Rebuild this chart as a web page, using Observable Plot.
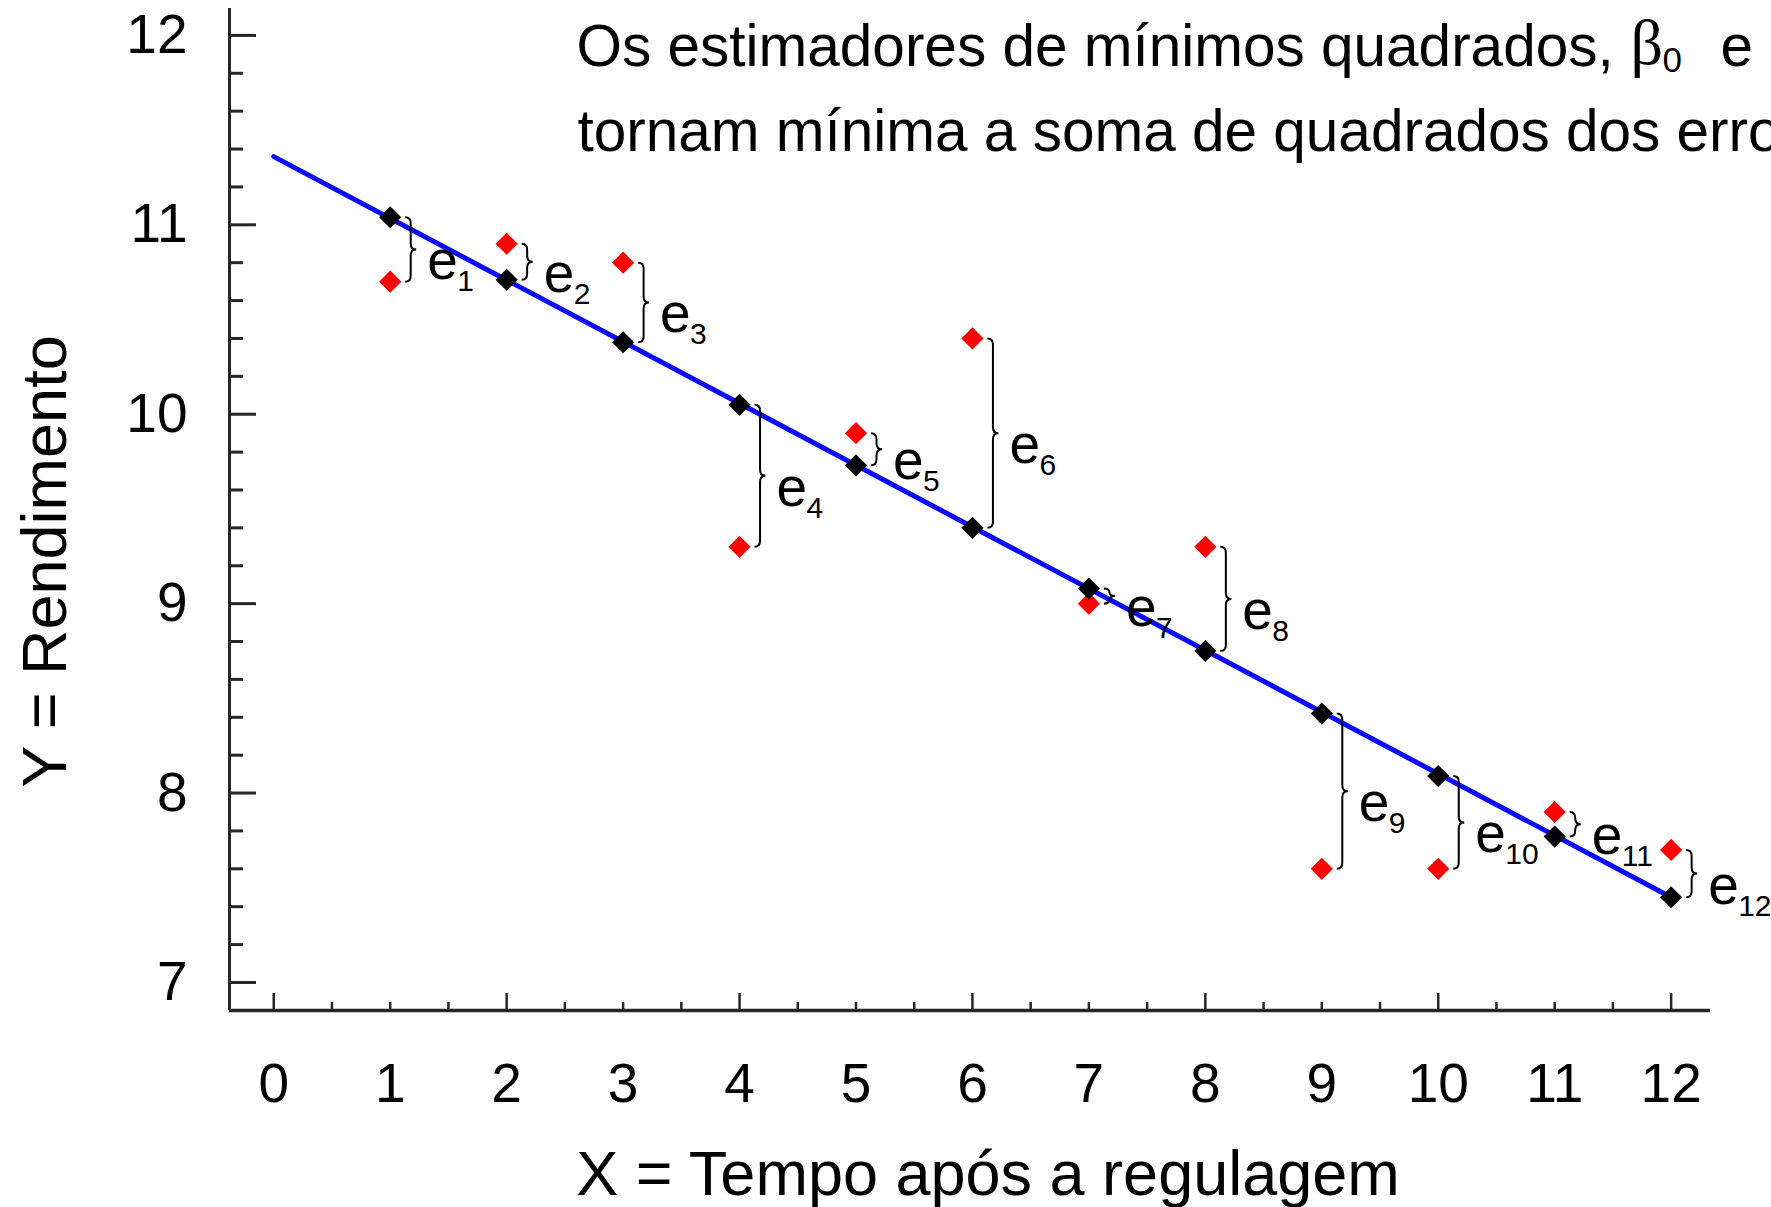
<!DOCTYPE html>
<html>
<head>
<meta charset="utf-8">
<script src="https://cdn.jsdelivr.net/npm/d3@7"></script>
<script src="https://cdn.jsdelivr.net/npm/@observablehq/plot@0.6"></script>
<style>
  html, body { margin: 0; padding: 0; background: #ffffff; overflow: hidden; }
  #chart svg { display: block; }
</style>
</head>
<body>
<div id="chart"></div>
<script>
// ---- data ----
const tempo = [1, 2, 3, 4, 5, 6, 7, 8, 9, 10, 11, 12];
const rendimento = [10.7, 10.9, 10.8, 9.3, 9.9, 10.4, 9.0, 9.3, 7.6, 7.6, 7.9, 7.7];
const ajustado = [11.04, 10.71, 10.38, 10.05, 9.73, 9.40, 9.08, 8.75, 8.42, 8.09, 7.77, 7.45];
const retaX = [0, 12];
const retaY = [11.36, 7.45];
const residuoNomes = ["1", "2", "3", "4", "5", "6", "7", "8", "9", "10", "11", "12"];

const xTickLabels = [0, 1, 2, 3, 4, 5, 6, 7, 8, 9, 10, 11, 12];
const yTickLabels = [7, 8, 9, 10, 11, 12];
const xMajorTicks = [0, 2, 4, 6, 8, 10, 12];
const xMinorTicks = [0.5, 1, 1.5, 2.5, 3, 3.5, 4.5, 5, 5.5, 6.5, 7, 7.5, 8.5, 9, 9.5, 10.5, 11, 11.5];
const yMajorTicks = [7, 8, 9, 10, 11, 12];
const yMinorTicks = [7.2, 7.4, 7.6, 7.8, 8.2, 8.4, 8.6, 8.8, 9.2, 9.4, 9.6, 9.8,
                     10.2, 10.4, 10.6, 10.8, 11.2, 11.4, 11.6, 11.8];

const xLabel = "X = Tempo após a regulagem";
const yLabel = "Y = Rendimento";
const titulo1 = "Os estimadores de mínimos quadrados,";
const titulo2 = "tornam mínima a soma de quadrados dos erros";

// ---- scale configuration ----
const W = 1771, H = 1207;
const mL = 229, mR = 61, mT = 8, mB = 197;
const xDomain = [-0.38, 12.338];
const yDomain = [6.852, 12.142];
const plotW = W - mL - mR, plotH = H - mT - mB;

const residuos = tempo.map((x, i) => ({x, obs: rendimento[i], fit: ajustado[i], nome: residuoNomes[i]}));

// curly brace drawn between the two link end points (tip pointing right)
function braceCurve(context) {
  let pts = [];
  return {
    areaStart() {}, areaEnd() {},
    lineStart() { pts = []; },
    point(x, y) { pts.push([+x, +y]); },
    lineEnd() {
      if (pts.length < 2) return;
      const x = pts[0][0];
      const top = Math.min(pts[0][1], pts[1][1]);
      const bot = Math.max(pts[0][1], pts[1][1]);
      const mid = (top + bot) / 2;
      const w = 5.5;
      const r = Math.min(6, (bot - top) / 4);
      context.moveTo(x, top);
      context.quadraticCurveTo(x + w, top, x + w, top + r);
      context.lineTo(x + w, mid - r);
      context.quadraticCurveTo(x + w, mid, x + 2 * w, mid);
      context.quadraticCurveTo(x + w, mid, x + w, mid + r);
      context.lineTo(x + w, bot - r);
      context.quadraticCurveTo(x + w, bot, x, bot);
    }
  };
}

const sans = "Liberation Sans, Arial, Helvetica, sans-serif";
const axisColor = "#262626";
const fmt = d3.format("d");

const chart = Plot.plot({
  width: W,
  height: H,
  marginLeft: mL,
  marginRight: mR,
  marginTop: mT,
  marginBottom: mB,
  style: {fontFamily: sans, background: "#ffffff", color: "#000000", overflow: "hidden"},
  x: {domain: xDomain, axis: null},
  y: {domain: yDomain, axis: null},
  marks: [
    // axis lines
    Plot.ruleX([xDomain[0]], {stroke: axisColor, strokeWidth: 3}),
    Plot.ruleY([yDomain[0]], {stroke: axisColor, strokeWidth: 3.5}),
    // inward ticks
    Plot.tickY(yMajorTicks, {y: d => d, insetRight: plotW - 27, stroke: axisColor, strokeWidth: 3}),
    Plot.tickY(yMinorTicks, {y: d => d, insetRight: plotW - 14, stroke: axisColor, strokeWidth: 3}),
    Plot.tickX(xMajorTicks, {x: d => d, insetTop: plotH - 17, stroke: axisColor, strokeWidth: 2.5}),
    Plot.tickX(xMinorTicks, {x: d => d, insetTop: plotH - 8, stroke: axisColor, strokeWidth: 2.5}),
    // tick labels
    Plot.axisY(yTickLabels, {tickSize: 0, tickPadding: 42, fontSize: 55, label: null, fill: "#000", tickFormat: fmt}),
    Plot.axisX(xTickLabels, {tickSize: 0, tickPadding: 52, fontSize: 55, label: null, fill: "#000", tickFormat: fmt}),
    // axis titles
    Plot.text([yLabel], {text: d => d, frameAnchor: "left", textAnchor: "middle", lineAnchor: "middle", dx: -184, dy: 52, rotate: -90, fontSize: 63, fill: "#000"}),
    Plot.text([xLabel], {text: d => d, frameAnchor: "bottom", textAnchor: "middle", lineAnchor: "middle", dx: 18, dy: 164, fontSize: 63, fill: "#000"}),
    // title text (inside the frame, top right)
    Plot.text([titulo1], {text: d => d, frameAnchor: "top-left", textAnchor: "start", lineAnchor: "bottom", dx: 347, dy: 57.5, fontSize: 58.5, fill: "#000"}),
    Plot.text(["β"], {text: d => d, frameAnchor: "top-left", textAnchor: "start", lineAnchor: "bottom", dx: 1401, dy: 55, fontSize: 64, fontFamily: "Liberation Serif, Times New Roman, serif", fill: "#000"}),
    Plot.text(["0"], {text: d => d, frameAnchor: "top-left", textAnchor: "start", lineAnchor: "bottom", dx: 1433, dy: 63, fontSize: 35, fill: "#000"}),
    Plot.text(["e"], {text: d => d, frameAnchor: "top-left", textAnchor: "start", lineAnchor: "bottom", dx: 1491, dy: 57.5, fontSize: 58.5, fill: "#000"}),
    Plot.text([titulo2], {text: d => d, frameAnchor: "top-left", textAnchor: "start", lineAnchor: "bottom", dx: 348, dy: 142, fontSize: 58.5, fill: "#000"}),
    // regression line
    Plot.line(retaX.map((x, i) => ({x, y: retaY[i]})), {x: "x", y: "y", stroke: "#0a0aff", strokeWidth: 5}),
    // braces for residuals
    Plot.link(residuos, {x1: "x", y1: "obs", x2: "x", y2: "fit", curve: braceCurve, dx: 15, stroke: "#000", strokeWidth: 2}),
    // observed (red) and fitted (black) points
    Plot.dot(residuos, {x: "x", y: "obs", symbol: "diamond2", r: 10, fill: "#ff0000", stroke: "none"}),
    Plot.dot(residuos, {x: "x", y: "fit", symbol: "diamond2", r: 10, fill: "#000000", stroke: "none"}),
    // residual labels e_i
    Plot.text(residuos, {x: "x", y: d => (d.obs + d.fit) / 2, text: () => "e", textAnchor: "start", lineAnchor: "bottom", dx: 37, dy: 30, fontSize: 55, fill: "#000"}),
    Plot.text(residuos, {x: "x", y: d => (d.obs + d.fit) / 2, text: "nome", textAnchor: "start", lineAnchor: "bottom", dx: 67, dy: 42, fontSize: 30, fill: "#000"})
  ]
});

document.getElementById("chart").appendChild(chart);
</script>
</body>
</html>
